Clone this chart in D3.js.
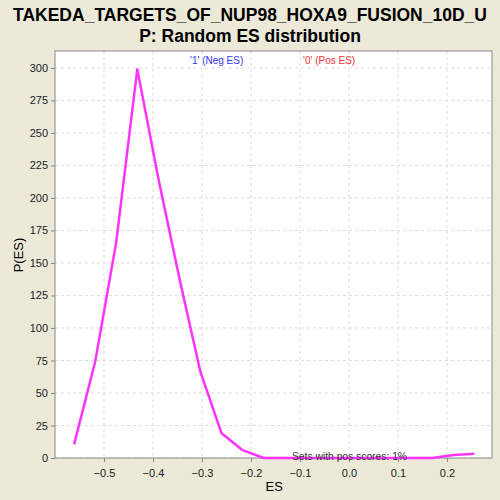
<!DOCTYPE html>
<html>
<head>
<meta charset="utf-8">
<style>
  body { margin: 0; background: #ece9d8; }
  svg { display: block; }
</style>
</head>
<body>
<svg width="500" height="500"></svg>
<script src="https://d3js.org/d3.v7.min.js"></script>
<script>
// ES values of the random distribution and their densities
var esValues = [-0.561, -0.518, -0.475, -0.432, -0.389, -0.346, -0.303, -0.260, -0.217, -0.174,
                -0.131, -0.088, -0.045, -0.002, 0.041, 0.084, 0.127, 0.170, 0.213, 0.256];
var pValues = [10.5, 74, 166, 299, 215, 138, 66, 19, 6, 0,
               0, 0, 0, 0, 0, 0, 0, 0, 2.3, 3.2];
var xTicks = [-0.5, -0.4, -0.3, -0.2, -0.1, 0.0, 0.1, 0.2];
var yTicks = [0, 25, 50, 75, 100, 125, 150, 175, 200, 225, 250, 275, 300];

var svg = d3.select("svg"),
    margin = {top: 51, right: 8, bottom: 42, left: 55},
    width = 500 - margin.left - margin.right,
    height = 500 - margin.top - margin.bottom,
    g = svg.append("g").attr("transform", "translate(" + margin.left + "," + margin.top + ")");

var x = d3.scaleLinear().domain([-0.6, 0.292]).range([0, width]);
var y = d3.scaleLinear().domain([0, 313]).range([height, 0]);

// title
svg.append("text").attr("x", 250).attr("y", 21).attr("text-anchor", "middle")
    .attr("font-family", "Liberation Sans, Arial, sans-serif").attr("font-weight", "bold")
    .attr("font-size", 17.5).text("TAKEDA_TARGETS_OF_NUP98_HOXA9_FUSION_10D_U");
svg.append("text").attr("x", 250).attr("y", 42).attr("text-anchor", "middle")
    .attr("font-family", "Liberation Sans, Arial, sans-serif").attr("font-weight", "bold")
    .attr("font-size", 17.5).text("P: Random ES distribution");

// plot background
g.append("rect").attr("width", width).attr("height", height).attr("fill", "#fff");

// grid
g.selectAll(".gx").data(xTicks).enter().append("line")
    .attr("x1", function(d) { return x(d); }).attr("x2", function(d) { return x(d); })
    .attr("y1", 0).attr("y2", height)
    .attr("stroke", "#dcdcdc").attr("stroke-dasharray", "3,3");
g.selectAll(".gy").data(yTicks).enter().append("line")
    .attr("y1", function(d) { return y(d); }).attr("y2", function(d) { return y(d); })
    .attr("x1", 0).attr("x2", width)
    .attr("stroke", "#dcdcdc").attr("stroke-dasharray", "3,3");

// axes
var xAxis = g.append("g").attr("transform", "translate(0," + height + ")")
    .call(d3.axisBottom(x).tickValues(xTicks).tickFormat(d3.format(".1f")).tickSizeOuter(0).tickSize(4));
var yAxis = g.append("g")
    .call(d3.axisLeft(y).tickValues(yTicks).tickSizeOuter(0).tickSize(4));
[xAxis, yAxis].forEach(function(a) {
  a.selectAll("text").attr("font-family", "Liberation Sans, Arial, sans-serif").attr("font-size", 11).attr("fill", "#222");
  a.selectAll("line").attr("stroke", "#888");
  a.select(".domain").remove();
});
xAxis.selectAll("text").attr("dy", "1.1em");

// border
g.append("rect").attr("width", width).attr("height", height)
    .attr("fill", "none").attr("stroke", "#888").attr("stroke-width", 1);

// axis labels
svg.append("text").attr("x", margin.left + x(-0.1525)).attr("y", 491).attr("text-anchor", "middle")
    .attr("font-family", "Liberation Sans, Arial, sans-serif").attr("font-size", 13).text("ES");
svg.append("text").attr("transform", "translate(23," + 255 + ") rotate(-90)").attr("text-anchor", "middle")
    .attr("font-family", "Liberation Sans, Arial, sans-serif").attr("font-size", 13).text("P(ES)");

// legend labels
g.append("text").attr("x", 190 - margin.left).attr("y", 64 - margin.top)
    .attr("font-family", "Liberation Sans, Arial, sans-serif").attr("font-size", 10)
    .attr("fill", "#3333ee").text("'1' (Neg ES)");
g.append("text").attr("x", 303 - margin.left).attr("y", 64 - margin.top)
    .attr("font-family", "Liberation Sans, Arial, sans-serif").attr("font-size", 10)
    .attr("fill", "#ee3333").text("'0' (Pos ES)");

// line
var line = d3.line()
    .x(function(d, i) { return x(esValues[i]); })
    .y(function(d) { return y(d); });
g.append("path").datum(pValues)
    .attr("fill", "none").attr("stroke", "#ff33ff").attr("stroke-width", 2.5)
    .attr("stroke-linejoin", "round").attr("d", line);

g.append("text").attr("x", 292 - margin.left).attr("y", 460 - margin.top)
    .attr("font-family", "Liberation Sans, Arial, sans-serif").attr("font-size", 10.3)
    .attr("fill", "#333").text("Sets with pos scores: 1%");
</script>
</body>
</html>
